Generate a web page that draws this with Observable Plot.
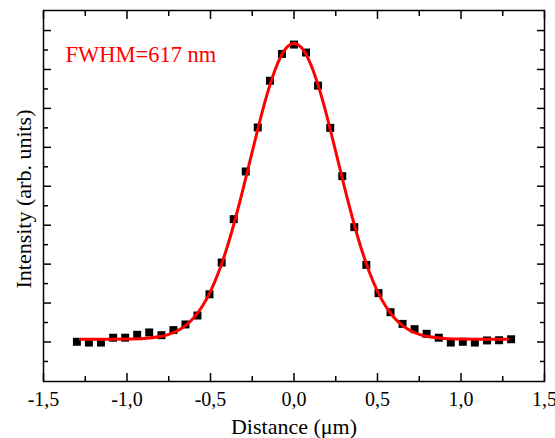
<!DOCTYPE html>
<html>
<head>
<meta charset="utf-8">
<script src="https://cdn.jsdelivr.net/npm/d3@7"></script>
<script src="https://cdn.jsdelivr.net/npm/@observablehq/plot@0.6"></script>
<style>
  html, body { margin: 0; padding: 0; background: #fff; }
  #chart { width: 555px; height: 438px; }
  svg { font-family: "Liberation Serif", "Times New Roman", serif; }
</style>
</head>
<body>
<div id="chart"></div>
<script>
// Measured profile (squares)
const distance = [-1.300, -1.228, -1.156, -1.083, -1.011, -0.939, -0.867, -0.794, -0.722, -0.650,
  -0.578, -0.506, -0.433, -0.361, -0.289, -0.217, -0.144, -0.072, 0.000, 0.072,
  0.144, 0.217, 0.289, 0.361, 0.433, 0.506, 0.578, 0.650, 0.722, 0.794,
  0.867, 0.939, 1.011, 1.083, 1.156, 1.228, 1.300];
const intensity = [0.01, -0.03, -0.03, 0.22, 0.22, 0.37, 0.49, 0.35, 0.61, 0.90,
  1.36, 2.45, 4.08, 6.31, 8.76, 11.02, 13.42, 14.80, 15.28, 14.87,
  13.17, 11.00, 8.52, 5.90, 3.96, 2.51, 1.53, 0.93, 0.66, 0.42,
  0.22, -0.03, 0.01, -0.03, 0.08, 0.09, 0.14];

// Fitted curve (red line)
const fitX = [-1.28, -1.2, -1.1, -1.0, -0.9, -0.8, -0.75, -0.7, -0.65, -0.6, -0.55, -0.5, -0.45, -0.4,
  -0.35, -0.3, -0.25, -0.2, -0.15, -0.1, -0.05, 0, 0.05, 0.1, 0.15, 0.2, 0.25, 0.3, 0.35,
  0.4, 0.45, 0.5, 0.55, 0.6, 0.65, 0.7, 0.75, 0.8, 0.9, 1.0, 1.1, 1.2, 1.28];
const fitY = [0.14, 0.14, 0.14, 0.15, 0.18, 0.28, 0.39, 0.57, 0.84, 1.25, 1.82, 2.60, 3.62, 4.88,
  6.37, 8.03, 9.78, 11.50, 13.04, 14.27, 15.07, 15.34, 15.07, 14.27, 13.04, 11.50, 9.78, 8.03, 6.37,
  4.88, 3.62, 2.60, 1.82, 1.25, 0.84, 0.57, 0.39, 0.28, 0.18, 0.15, 0.14, 0.14, 0.14];

// Tick values
const majorX = [-1.5, -1.0, -0.5, 0.0, 0.5, 1.0, 1.5];
const minorX = [-1.25, -0.75, -0.25, 0.25, 0.75, 1.25];
const majorY = [0, 2, 4, 6, 8, 10, 12, 14, 16];
const minorY = [-1, 1, 3, 5, 7, 9, 11, 13, 15];

const labelText = "FWHM=617 nm";
const xLabel = "Distance (\u03bcm)";
const yLabel = "Intensity (arb. units)";

const points = distance.map((d, i) => ({x: d, y: intensity[i]}));
const fit = fitX.map((d, i) => ({x: d, y: fitY[i]}));
const fmt = d => d.toFixed(1).replace(".", ",");
const blank = () => "";

const tickStyle = {stroke: "black", strokeWidth: 1.5, fill: "none", label: null, tickFormat: blank};

const chart = Plot.plot({
  width: 555,
  height: 438,
  marginLeft: 43,
  marginTop: 10,
  marginRight: 11,
  marginBottom: 57,
  style: {background: "white", fontFamily: "'Liberation Serif', 'Times New Roman', serif", color: "black"},
  x: {domain: [-1.5, 1.5]},
  y: {domain: [-2.03, 17.03]},
  marks: [
    // inward ticks on four sides
    Plot.axisX(majorX, {anchor: "bottom", tickSize: -8, ...tickStyle}),
    Plot.axisX(minorX, {anchor: "bottom", tickSize: -5, ...tickStyle}),
    Plot.axisX(majorX, {anchor: "top", tickSize: -8, ...tickStyle}),
    Plot.axisX(minorX, {anchor: "top", tickSize: -5, ...tickStyle}),
    Plot.axisY(majorY, {anchor: "left", tickSize: -8, ...tickStyle}),
    Plot.axisY(minorY, {anchor: "left", tickSize: -5, ...tickStyle}),
    Plot.axisY(majorY, {anchor: "right", tickSize: -8, ...tickStyle}),
    Plot.axisY(minorY, {anchor: "right", tickSize: -5, ...tickStyle}),
    // x tick labels
    Plot.axisX(majorX, {anchor: "bottom", tickSize: 0, tickPadding: 10, tickFormat: fmt, fontSize: 20, fill: "black", label: null}),
    Plot.frame({stroke: "black", strokeWidth: 1.5}),
    Plot.dot(points, {x: "x", y: "y", symbol: "square", r: 4.5, fill: "black", stroke: null}),
    Plot.line(fit, {x: "x", y: "y", stroke: "#ff0000", strokeWidth: 3, curve: "natural"}),
    Plot.text([labelText], {frameAnchor: "top-left", dx: 22, dy: 51, lineAnchor: "bottom", textAnchor: "start", fill: "#ff0000", fontSize: 22.5}),
    Plot.text([xLabel], {frameAnchor: "bottom", dy: 52, lineAnchor: "bottom", textAnchor: "middle", fill: "black", fontSize: 22}),
    Plot.text([yLabel], {frameAnchor: "left", dx: -13, dy: 3, rotate: -90, lineAnchor: "bottom", textAnchor: "middle", fill: "black", fontSize: 22})
  ]
});
document.getElementById("chart").appendChild(chart);
</script>
</body>
</html>
